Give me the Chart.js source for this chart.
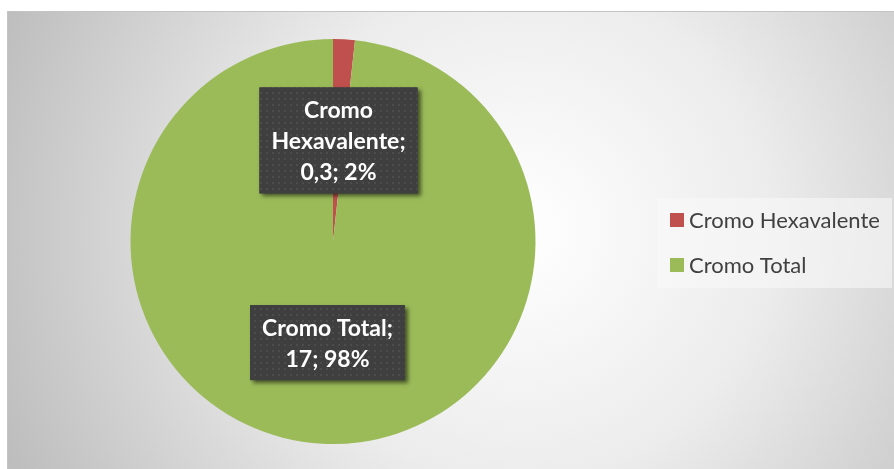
<!DOCTYPE html>
<html>
<head>
<meta charset="utf-8">
<script src="https://cdn.jsdelivr.net/npm/chart.js@4.4.1/dist/chart.umd.min.js"></script>
<style>
  html, body { margin: 0; padding: 0; background: #ffffff; }
  #wrap { width: 894px; height: 469px; }
</style>
</head>
<body>
<div id="wrap"><canvas id="pieChart" width="894" height="469"></canvas></div>
<script>
// Chart data
const categories = ['Cromo Hexavalente', 'Cromo Total'];
const values = [0.3, 17];
const sliceColors = ['#C0504D', '#9BBB59'];

const total = values.reduce((a, b) => a + b, 0);

// dotted fill for the data label boxes
function makeDotPattern(ctx) {
    const c = document.createElement('canvas');
    c.width = 6; c.height = 6;
    const p = c.getContext('2d');
    p.fillStyle = '#3f3f3f';
    p.fillRect(0, 0, 6, 6);
    p.fillStyle = '#4c4c4c';
    p.fillRect(2, 2, 2, 2);
    return ctx.createPattern(c, 'repeat');
}

function wrapText(ctx, text, maxWidth) {
    const words = text.split(' ');
    const lines = [];
    let line = '';
    words.forEach(w => {
        const test = line ? line + ' ' + w : w;
        if (line && ctx.measureText(test).width > maxWidth) {
            lines.push(line);
            line = w;
        } else {
            line = test;
        }
    });
    if (line) lines.push(line);
    return lines;
}

// Background area with radial gradient
const backgroundPlugin = {
    id: 'bgPlugin',
    beforeDraw(chart) {
        const ctx = chart.ctx;
        ctx.save();
        ctx.fillStyle = '#ffffff';
        ctx.fillRect(0, 0, chart.width, chart.height);
        const g = ctx.createRadialGradient(520, 230, 0, 520, 230, 560);
        g.addColorStop(0, '#ffffff');
        g.addColorStop(0.45, '#ececec');
        g.addColorStop(1, '#bdbdbd');
        ctx.fillStyle = g;
        ctx.fillRect(7, 11, chart.width - 7, chart.height - 11);
        ctx.strokeStyle = '#c4c4c4';
        ctx.lineWidth = 1;
        ctx.beginPath();
        ctx.moveTo(7.5, chart.height);
        ctx.lineTo(7.5, 11.5);
        ctx.lineTo(chart.width, 11.5);
        ctx.stroke();
        ctx.restore();
    }
};

// Data labels in dark boxes
const labelPlugin = {
    id: 'boxLabels',
    afterDatasetsDraw(chart) {
        const ctx = chart.ctx;
        const meta = chart.getDatasetMeta(0);
        const pattern = makeDotPattern(ctx);
        ctx.save();
        ctx.font = 'bold 23px Lato, "Open Sans", sans-serif';
        ctx.textAlign = 'center';
        ctx.textBaseline = 'middle';
        const lineH = 31;
        meta.data.forEach((arc, i) => {
            const pos = arc.tooltipPosition();
            const pct = Math.round(values[i] / total * 100);
            const txt = categories[i] + '; ' + String(values[i]).replace('.', ',') + '; ' + pct + '%';
            const lines = wrapText(ctx, txt, 155);
            const tw = Math.max(...lines.map(l => ctx.measureText(l).width));
            const bw = tw + 24;
            const bh = lines.length * lineH + 13;
            const bx = pos.x - bw / 2;
            const by = pos.y - bh / 2;
            ctx.save();
            ctx.shadowColor = 'rgba(0,0,0,0.55)';
            ctx.shadowBlur = 4;
            ctx.shadowOffsetX = 3;
            ctx.shadowOffsetY = 3;
            ctx.fillStyle = '#3f3f3f';
            ctx.fillRect(bx, by, bw, bh);
            ctx.restore();
            ctx.fillStyle = pattern;
            ctx.fillRect(bx, by, bw, bh);
            ctx.fillStyle = '#ffffff';
            lines.forEach((l, k) => {
                ctx.fillText(l, pos.x, by + 6.5 + lineH * (k + 0.5) + 1);
            });
        });
        ctx.restore();
    }
};

// Legend box on the right
const legendPlugin = {
    id: 'sideLegend',
    afterDraw(chart) {
        const ctx = chart.ctx;
        ctx.save();
        ctx.fillStyle = 'rgba(248,248,248,0.6)';
        ctx.fillRect(657, 198, 235, 90);
        ctx.font = '22px Lato, "Open Sans", sans-serif';
        ctx.textBaseline = 'middle';
        ctx.textAlign = 'left';
        categories.forEach((c, i) => {
            const y = 220 + i * 45;
            ctx.fillStyle = sliceColors[i];
            ctx.fillRect(670, y - 7, 14, 14);
            ctx.fillStyle = '#404040';
            ctx.fillText(c, 689, y + 1);
        });
        ctx.restore();
    }
};

const ctx = document.getElementById('pieChart').getContext('2d');
const myPieChart = new Chart(ctx, {
    type: 'pie',
    data: {
        labels: categories,
        datasets: [{
            data: values,
            backgroundColor: sliceColors,
            borderWidth: 0
        }]
    },
    options: {
        responsive: false,
        animation: false,
        devicePixelRatio: 1,
        layout: { padding: { left: 130, right: 358, top: 39, bottom: 25 } },
        plugins: {
            legend: { display: false },
            tooltip: { enabled: false }
        }
    },
    plugins: [backgroundPlugin, labelPlugin, legendPlugin]
});
</script>
</body>
</html>
